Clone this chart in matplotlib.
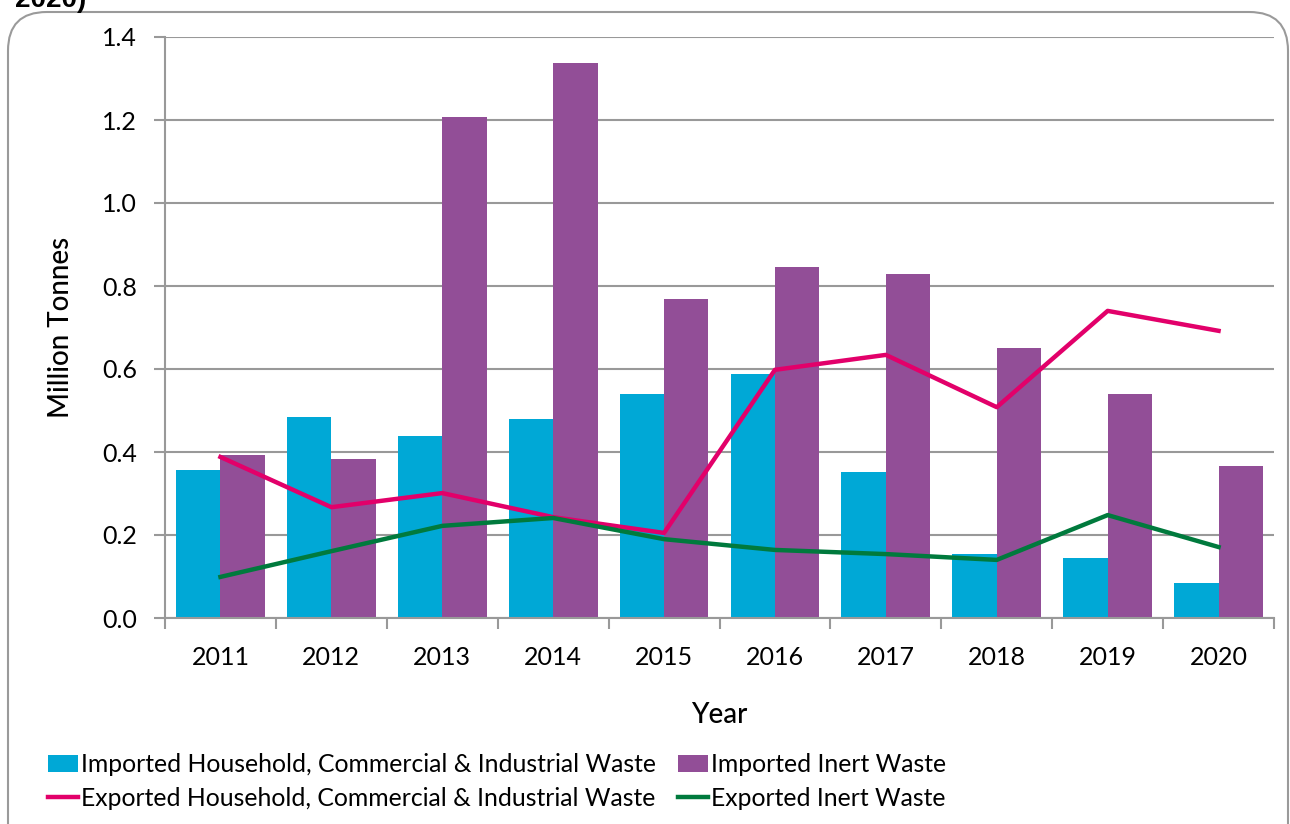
import matplotlib
matplotlib.use("Agg")
import matplotlib.pyplot as plt
import numpy as np
from matplotlib.patches import FancyBboxPatch

years = ["2011", "2012", "2013", "2014", "2015", "2016", "2017", "2018", "2019", "2020"]
imp_hci = [0.357, 0.484, 0.439, 0.480, 0.540, 0.588, 0.352, 0.154, 0.145, 0.084]
imp_inert = [0.393, 0.383, 1.207, 1.337, 0.769, 0.846, 0.829, 0.651, 0.540, 0.366]
exp_hci = [0.388, 0.267, 0.301, 0.243, 0.205, 0.598, 0.634, 0.508, 0.740, 0.692]
exp_inert = [0.099, 0.161, 0.222, 0.241, 0.190, 0.164, 0.154, 0.140, 0.248, 0.171]

blue = "#00a8d6"
purple = "#924e97"
pink = "#e2006a"
green = "#007a3d"
grey = "#999999"

plt.rcParams['font.family'] = ['Lato', 'DejaVu Sans']

fig = plt.figure(figsize=(12.9, 8.24), dpi=100)

# rounded frame around the chart, kept behind the axes
frame = FancyBboxPatch((8 / 1290, -0.05), 1280 / 1290, (824 - 12) / 824 + 0.05,
                       boxstyle="round,pad=0,rounding_size=0.03",
                       transform=fig.transFigure, fc="white", ec="#9a9a9a", lw=1.5,
                       mutation_aspect=1290 / 824, zorder=-5)
fig.patches.append(frame)
fig.text(0.012, 1.0, "2020)", fontsize=20, fontweight="bold", family="Liberation Sans",
         va="center", ha="left")

ax = fig.add_axes([165 / 1290, (824 - 618) / 824, (1274 - 165) / 1290, (618 - 37) / 824])
ax.set_facecolor("none")

x = np.arange(len(years))
w = 0.4
ax.bar(x - w / 2, imp_hci, w, color=blue, zorder=2,
       label="Imported Household, Commercial & Industrial Waste")
ax.bar(x + w / 2, imp_inert, w, color=purple, zorder=2, label="Imported Inert Waste")
ax.plot(x, exp_hci, color=pink, lw=3.2, zorder=3,
        label="Exported Household, Commercial & Industrial Waste")
ax.plot(x, exp_inert, color=green, lw=3.2, zorder=3, label="Exported Inert Waste")

ax.set_xlim(-0.5, len(years) - 0.5)
ax.set_ylim(0, 1.4)
ax.set_yticks(np.arange(0, 1.41, 0.2))
ax.set_yticklabels([f"{v:.1f}" for v in np.arange(0, 1.41, 0.2)], fontsize=18)
ax.yaxis.grid(True, color=grey, lw=1.5, zorder=0)
ax.set_axisbelow(True)

ax.set_xticks(x)
ax.set_xticklabels(years, fontsize=18)
ax.tick_params(axis="x", length=0, pad=20)
ax.set_xticks(np.arange(-0.5, len(years)), minor=True)
ax.tick_params(axis="x", which="minor", length=8, color=grey, width=1.5)
ax.tick_params(axis="y", length=8, color=grey, width=1.5, pad=12)

for s in ["top", "right"]:
    ax.spines[s].set_visible(False)
for s in ["left", "bottom"]:
    ax.spines[s].set_color(grey)
    ax.spines[s].set_linewidth(1.5)

ax.set_xlabel("Year", fontsize=20, labelpad=24, fontweight="medium")
ax.set_ylabel("Million Tonnes", fontsize=20, labelpad=20, fontweight="medium")

handles, labels = ax.get_legend_handles_labels()
order = [2, 0, 3, 1]
leg = fig.legend([handles[i] for i in order], [labels[i] for i in order],
                 loc="lower left", bbox_to_anchor=(26 / 1290, -0.01), ncol=2,
                 frameon=False, handlelength=1.2, handletextpad=0.12,
                 columnspacing=0.9, labelspacing=0.45,
                 prop={"size": 17.8})

fig.savefig("out.png", dpi=100)
